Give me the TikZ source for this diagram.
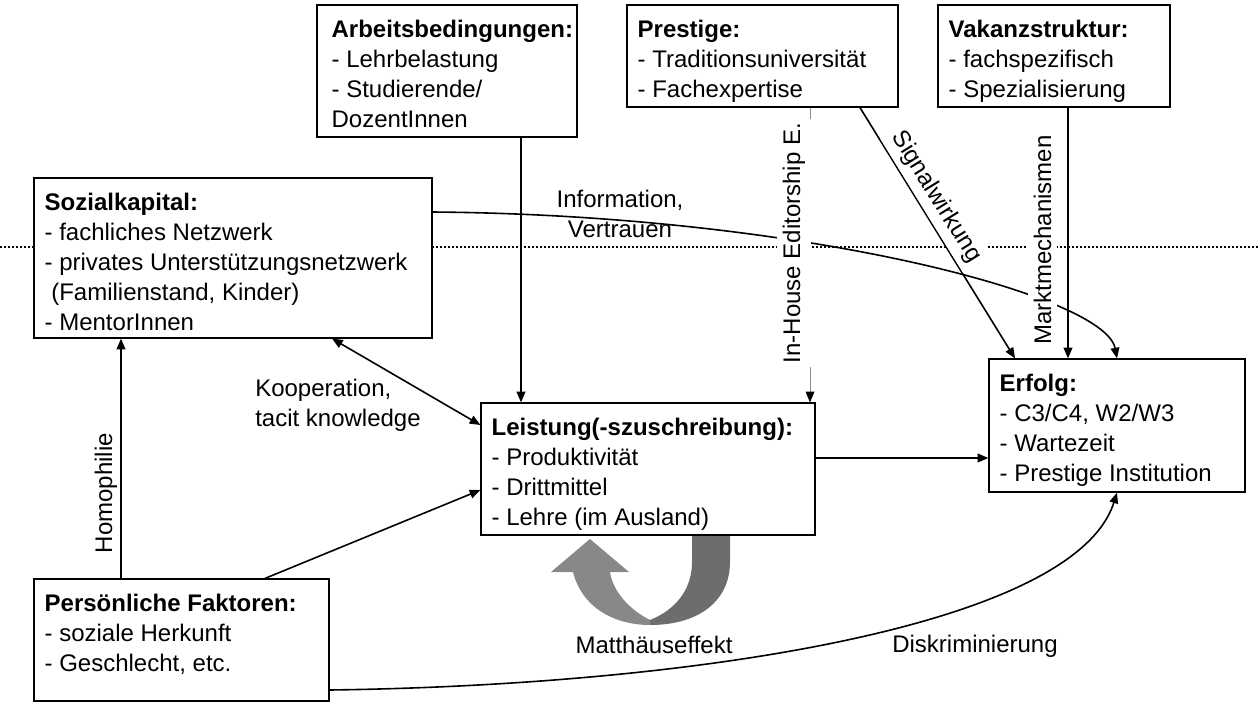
\documentclass[tikz,border=0pt]{standalone}
\usepackage{fontspec}
\setmainfont{Liberation Sans}
\usetikzlibrary{arrows.meta,fit,calc}
\definecolor{mlight}{HTML}{888888}
\definecolor{mdark}{HTML}{6D6D6D}
\begin{document}
\begin{tikzpicture}[x=0.75pt,y=-0.75pt,
  font=\fontsize{18}{22.5}\selectfont,
  box/.style={draw=black,line width=0.9pt,fill=white,inner sep=0pt},
  boxtext/.style={anchor=north west,align=left,inner sep=0pt},
  conn/.style={line width=1.2pt,-{Triangle[length=8pt,width=6.5pt]}},
  lbl/.style={fill=white,inner xsep=3pt,inner ysep=4.5pt},
  plain/.style={inner sep=0pt},
  dotline/.style={line width=1.3pt,dash pattern=on 1.4pt off 1.6pt},
]
\useasboundingbox (0,0) rectangle (1258,715);
\coordinate (dl) at (0,247);
\coordinate (dr) at (1258,247);
\draw[dotline] (dl) -- (dr);

% Matthaeuseffekt arrow
\fill[mlight] (551,572) -- (590,539) -- (629,572) -- (610,572)
  .. controls (613,592) and (630,610) .. (650,620) -- (650,625)
  .. controls (615,625) and (582,608) .. (573,572) -- cycle;
\fill[mdark] (692,536) -- (730,536) -- (730,562)
  .. controls (730,600) and (700,625) .. (650,625) -- (650,620)
  .. controls (675,610) and (692,590) .. (692,562) -- cycle;

% boxes
\node[box,fit={(317,5) (577,137)}] (arb) {};
\node[boxtext] at ($(arb.north west)+(15,15)$) {\textbf{Arbeitsbedingungen:}\\- Lehrbelastung\\- Studierende/\\DozentInnen};
\node[box,fit={(627,5) (898,107)}] (pre) {};
\node[boxtext] at ($(pre.north west)+(11,15)$) {\textbf{Prestige:}\\- Traditionsuniversität\\- Fachexpertise};
\node[box,fit={(938,5) (1170,107)}] (vak) {};
\node[boxtext] at ($(vak.north west)+(11,15)$) {\textbf{Vakanzstruktur:}\\- fachspezifisch\\- Spezialisierung};
\node[box,fit={(34,178) (432,338)}] (soz) {};
\node[boxtext] at ($(soz.north west)+(11,15)$) {\textbf{Sozialkapital:}\\- fachliches Netzwerk\\- privates Unterstützungsnetzwerk\\\ (Familienstand, Kinder)\\- MentorInnen};
\node[box,fit={(481,403) (815,535)}] (leis) {};
\node[boxtext] at ($(leis.north west)+(11,15)$) {\textbf{Leistung(-szuschreibung):}\\- Produktivität\\- Drittmittel\\- Lehre (im Ausland)};
\node[box,fit={(989,359) (1245,492)}] (erf) {};
\node[boxtext] at ($(erf.north west)+(11,15)$) {\textbf{Erfolg:}\\- C3/C4, W2/W3\\- Wartezeit\\- Prestige Institution};
\node[box,fit={(34,579) (329,701)}] (pers) {};
\node[boxtext] at ($(pers.north west)+(11,15)$) {\textbf{Persönliche Faktoren:}\\- soziale Herkunft\\- Geschlecht, etc.};

% connectors
\draw[conn] (arb.south -| 521,0) -- (leis.north -| 521,0);
\draw[line width=0.5pt,draw=black!45,-{Triangle[length=8pt,width=6.5pt,color=black]}] (pre.south -| 810,0) -- (leis.north -| 810,0);
\draw[conn] (pre.south -| 860,0) -- (erf.north -| 1015,0)
  node[lbl,sloped,above,pos=0.393] (lsig) {Signalwirkung};
\draw[conn] (vak.south -| 1068,0) -- (erf.north -| 1068,0);
\draw[conn] (soz.east |- 0,212) .. controls (800,215) and (1105,295) .. (erf.north -| 1117,0);
\draw[conn,{Triangle[length=8pt,width=6.5pt]}-{Triangle[length=8pt,width=6.5pt]}] (soz.south -| 332,0) -- (leis.west |- 0,425);
\draw[conn] (leis.east |- 0,458) -- (erf.west |- 0,458);
\draw[conn] (pers.north -| 121,0) -- (soz.south -| 121,0);
\draw[conn] (pers.north -| 265,0) -- (leis.west |- 0,490);
\draw[conn] (pers.east |- 0,690) .. controls (700,685) and (1075,625) .. (erf.south -| 1117,0);

% labels
\node[plain,align=center] (linfo) at (620,214) {Information,\\Vertrauen};
\node[lbl,rotate=90,anchor=base] (lih) at (800,243) {In-House Editorship E.};
\node[lbl,rotate=90,anchor=base] (lmarkt) at (1051,240) {Marktmechanismen};
\node[plain,rotate=90,anchor=base] (lhomo) at (112,493) {Homophilie};
\node[plain,align=left,anchor=west] (lkoop) at (255,405) {Kooperation,\\tacit knowledge};
\node[plain,anchor=base] (lmat) at (654,653) {Matthäuseffekt};
\node[plain,anchor=base] (ldisk) at (975,652) {Diskriminierung};
\end{tikzpicture}
\end{document}
